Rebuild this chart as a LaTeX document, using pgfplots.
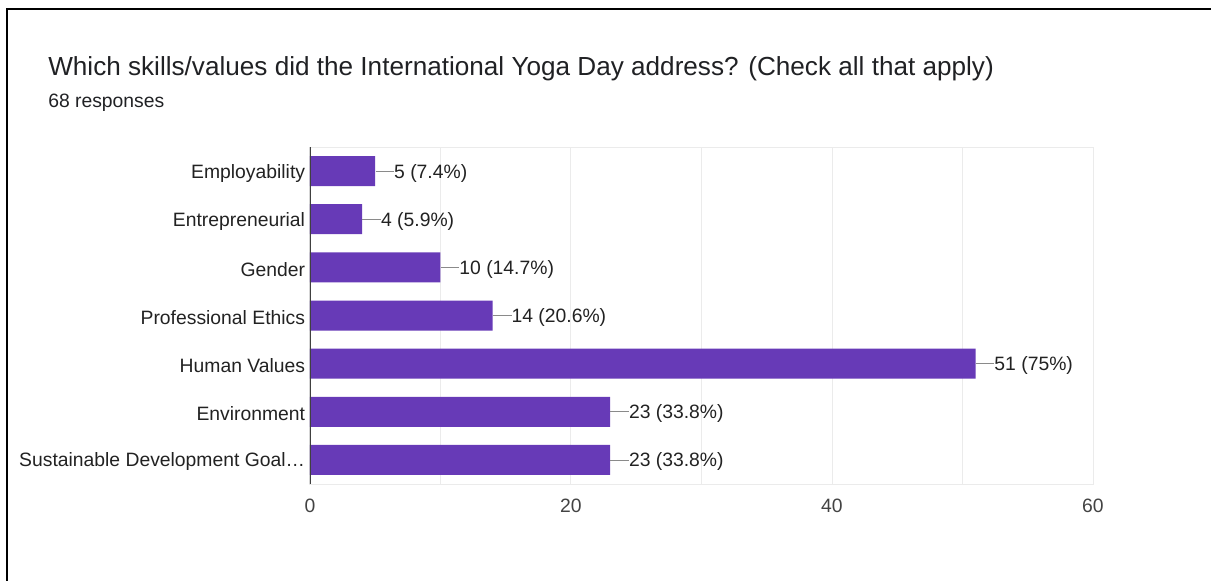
\documentclass[border=0pt]{standalone}
\usepackage{pgfplots}
\pgfplotsset{compat=1.18}
\usepackage{fontspec}
\setmainfont{Liberation Sans}
\definecolor{barpurple}{HTML}{673AB7}
\definecolor{gridgray}{HTML}{EBEBEB}
\definecolor{leader}{HTML}{8A8A8A}
\definecolor{txt}{HTML}{222222}
\definecolor{ttl}{HTML}{202124}
\begin{document}
\begin{tikzpicture}
\path[use as bounding box] (0pt,0pt) rectangle (908.25pt,-435.75pt);
\draw[black, line width=1.5pt] (5.25pt,-436pt) -- (5.25pt,-7.125pt) -- (909pt,-7.125pt);
\node[anchor=base west, inner sep=0pt, text=ttl, font=\fontsize{19.6}{23}\selectfont] at (36pt,-57pt) {Which skills/values did the International Yoga Day address? (Check all that apply)};
\node[anchor=base west, inner sep=0pt, text=ttl, font=\fontsize{14.5}{17}\selectfont] at (36pt,-81pt) {68 responses};
\begin{axis}[
  at={(232.5pt,-363pt)}, anchor=south west,
  scale only axis, width=587.25pt, height=252.75pt,
  xbar, bar width=22.5pt,
  xmin=0, xmax=60, ymin=-0.5, ymax=6.5,
  y dir=reverse,
  xtick={0,20,40,60}, minor x tick num=1,
  xmajorgrids, xminorgrids,
  grid style={gridgray, line width=0.75pt},
  minor grid style={gridgray, line width=0.75pt},
  major tick length=0pt, minor tick length=0pt,
  axis line style={gridgray, line width=0.75pt},
  ytick={0,1,2,3,4,5,6},
  yticklabels={Employability,Entrepreneurial,Gender,Professional Ethics,Human Values,Environment,Sustainable Development Goal…},
  yticklabel style={font=\fontsize{14.5}{17}\selectfont, text=txt, inner xsep=0pt, xshift=-3.5pt, yshift=-1.5pt},
  xticklabel style={font=\fontsize{14.5}{17}\selectfont, text=txt!85!white, yshift=-8pt},
  /pgf/number format/assume math mode=true,
  point meta=explicit symbolic,
  nodes near coords={\textcolor{leader}{\rule[0.33em]{14pt}{0.75pt}}\pgfplotspointmeta},
  every node near coord/.style={anchor=west, inner xsep=0pt, text=txt, yshift=-1.5pt, font=\fontsize{14.5}{17}\selectfont},
]
\addplot[fill=barpurple, draw=none] table[meta=label, row sep=\\, col sep=comma] {
x,y,label\\
5,0,5 (7.4\%)\\
4,1,4 (5.9\%)\\
10,2,10 (14.7\%)\\
14,3,14 (20.6\%)\\
51,4,51 (75\%)\\
23,5,23 (33.8\%)\\
23,6,23 (33.8\%)\\
};
\draw[black!75, line width=1.1pt] (axis cs:0,-0.5) -- (axis cs:0,6.5);
\end{axis}
\end{tikzpicture}
\end{document}
